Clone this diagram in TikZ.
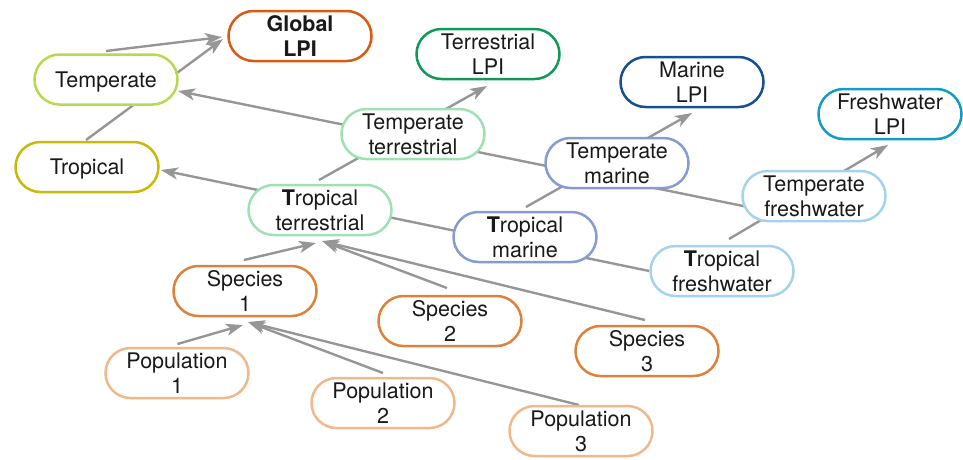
\documentclass[tikz,border=0pt]{standalone}
\usepackage{fontspec}
\setmainfont{TeX Gyre Heros}
\usetikzlibrary{shapes.misc,arrows.meta}
\pgfdeclarelayer{bg}
\pgfsetlayers{bg,main}
\definecolor{cGlobal}{RGB}{217,91,18}
\definecolor{cTemp}{RGB}{183,217,80}
\definecolor{cTrop}{RGB}{201,186,10}
\definecolor{cTerrL}{RGB}{17,154,85}
\definecolor{cMarL}{RGB}{22,80,145}
\definecolor{cFreshL}{RGB}{20,155,200}
\definecolor{cTerr}{RGB}{160,225,180}
\definecolor{cMar}{RGB}{135,155,210}
\definecolor{cFresh}{RGB}{165,210,238}
\definecolor{cSpec}{RGB}{220,130,60}
\definecolor{cPop}{RGB}{240,185,140}
\definecolor{cLine}{RGB}{150,150,150}
\tikzset{
  box/.style={rounded rectangle, draw=#1, line width=2.5pt, fill=white,
    minimum width=143pt, minimum height=50pt, inner sep=0pt, align=center,
    font=\fontsize{21.5}{25}\selectfont, text=black!90},
  onebox/.style={box=#1, text depth=0pt},
  link/.style={draw=cLine, line width=2.4pt},
  arr/.style={link, -{Stealth[length=17pt,width=12pt,inset=4.5pt]}}
}
\begin{document}
\begin{tikzpicture}[x=1pt,y=-1pt]
\useasboundingbox (0,0) rectangle (963,459);
% nodes
\node[box=cGlobal] (G) at (300,36) {\textbf{Global}\\\textbf{LPI}};
\node[onebox=cTemp] (Tm) at (106,79.5) {Temperate};
\node[onebox=cTrop] (Tp) at (87,167) {Tropical};
\node[box=cTerrL] (TL) at (488,54) {Terrestrial\\LPI};
\node[box=cMarL] (ML) at (692,82) {Marine\\LPI};
\node[box=cFreshL] (FL) at (890,114) {Freshwater\\LPI};
\node[box=cTerr] (TT) at (413,134) {Temperate\\terrestrial};
\node[box=cMar] (TM) at (617,163) {Temperate\\marine};
\node[box=cFresh] (TF) at (814,196) {Temperate\\freshwater};
\node[box=cTerr] (PT) at (320,210) {\textbf{T}ropical\\terrestrial};
\node[box=cMar] (PM) at (525,237) {\textbf{T}ropical\\marine};
\node[box=cFresh] (PF) at (722,271) {\textbf{T}ropical\\freshwater};
\node[box=cSpec] (S1) at (245,291) {Species\\1};
\node[box=cSpec] (S2) at (450,321) {Species\\2};
\node[box=cSpec] (S3) at (647,351) {Species\\3};
\node[box=cPop] (P1) at (177,373) {Population\\1};
\node[box=cPop] (P2) at (383,403) {Population\\2};
\node[box=cPop] (P3) at (581,431) {Population\\3};
% connectors (drawn behind the boxes)
\begin{pgfonlayer}{bg}
% to Global LPI
\draw[arr] ([shift={(0,-28.5)}]Tm.center) -- ([shift={(-78,1)}]G.center);
\draw[arr] ([shift={(-1,-27)}]Tp.center) -- ([shift={(-77,3)}]G.center);
% temperate row to Temperate (one line passing behind the boxes)
\draw[arr] ([shift={(-64,11.4)}]TF.center) -- ([shift={(72,11.5)}]Tm.center);
% tropical row to Tropical
\draw[arr] (PF.west) -- ([shift={(74,3)}]Tp.center);
% to Terrestrial / Marine / Freshwater LPI
\draw[arr] ([shift={(-1,-30)}]PT.center) -- ([shift={(-1,32)}]TL.center);
\draw[arr] ([shift={(1,-30)}]PM.center) -- ([shift={(0,31)}]ML.center);
\draw[arr] ([shift={(7,-32)}]PF.center) -- ([shift={(-2,31)}]FL.center);
% species to Tropical terrestrial
\draw[arr] ([shift={(-1,-31)}]S1.center) -- ([shift={(-4,33)}]PT.center);
\draw[arr] ([shift={(-3,-33)}]S2.center) -- ([shift={(2,31)}]PT.center);
\draw[arr] ([shift={(-2,-31)}]S3.center) -- ([shift={(2,31)}]PT.center);
% populations to Species 1
\draw[arr] ([shift={(0.5,-29)}]P1.center) -- ([shift={(-2,34)}]S1.center);
\draw[arr] ([shift={(0,-30)}]P2.center) -- ([shift={(3,31)}]S1.center);
\draw[arr] ([shift={(-2,-26)}]P3.center) -- ([shift={(3,31)}]S1.center);
\end{pgfonlayer}
\end{tikzpicture}
\end{document}
